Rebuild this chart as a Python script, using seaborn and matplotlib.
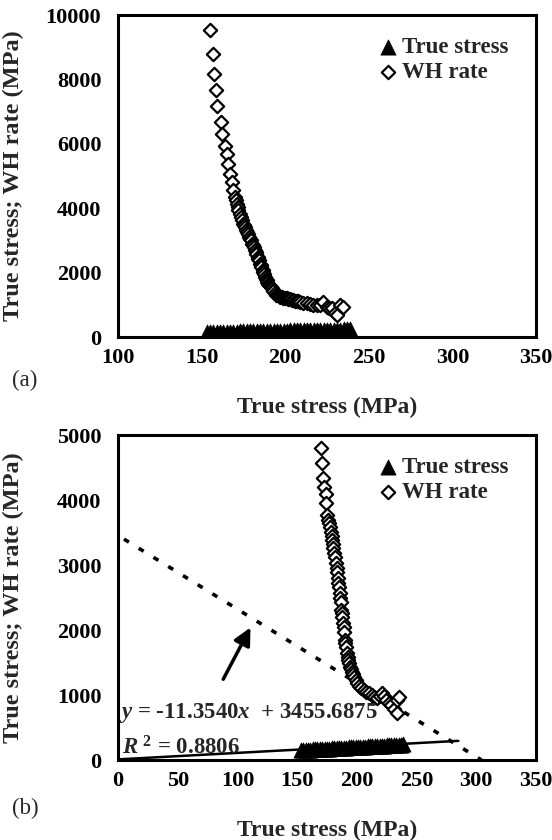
import numpy as np
import pandas as pd
import matplotlib
matplotlib.use("Agg")
import matplotlib.pyplot as plt
import seaborn as sns
from matplotlib.ticker import MultipleLocator

# ---- data ----
# panel (a): work hardening rate vs true stress
wh_stress_a = [155.0, 156.6, 157.4, 158.6, 159.0, 161.4, 162.3, 164.0, 165.0, 166.0,
               167.0, 168.0, 169.0, 170.0, 170.5, 171.0, 171.6, 172.0, 172.7, 173.4,
               174.2, 175.0, 175.4, 175.8, 176.6, 177.1, 177.5, 178.5, 179.0, 179.4,
               180.3, 180.8, 181.1, 181.9, 182.4, 182.7, 183.5, 184.0, 184.2, 184.9,
               185.3, 185.7, 186.5, 186.9, 187.2, 187.9, 188.4, 188.9, 189.4, 189.9,
               190.4, 190.9, 191.4, 191.9, 192.4, 192.9, 193.9, 194.6, 195.4, 196.2,
               196.9, 197.9, 198.9, 199.9, 200.9, 201.9, 202.9, 203.9, 204.9, 205.9,
               206.9, 207.9, 208.9, 210.9, 212.9, 214.8, 216.8, 218.8, 220.8, 222.8,
               224.8, 226.2, 227.7, 229.8, 230.7, 232.8, 234.5]
wh_rate_a = [9525, 8802, 8183, 7678, 7183, 6687, 6306, 5944, 5687, 5377,
             5077, 4808, 4551, 4344, 4240, 4138, 4030, 3932, 3830, 3725,
             3620, 3519, 3470, 3415, 3313, 3260, 3210, 3106, 3050, 3000,
             2900, 2850, 2800, 2693, 2640, 2590, 2487, 2430, 2385, 2281,
             2230, 2180, 2074, 2020, 1970, 1868, 1815, 1765, 1710, 1661,
             1620, 1580, 1540, 1507, 1470, 1430, 1352, 1320, 1300, 1270,
             1249, 1230, 1220, 1205, 1197, 1180, 1170, 1155, 1146, 1130,
             1120, 1105, 1094, 1070, 1042, 1015, 990, 985, 990, 1094,
             939, 910, 887, 733, 681, 990, 930]

# panel (b): same quantity, second plot
wh_stress_b = [169.9, 170.5, 172.0, 172.9, 174.1, 174.1, 175.0, 175.8, 176.5, 177.3,
               178.0, 178.8, 179.5, 180.0, 180.4, 181.2, 181.9, 182.5, 183.0, 183.4,
               184.0, 184.5, 184.9, 185.5, 186.0, 186.4, 187.0, 187.5, 187.9, 188.5,
               189.0, 189.4, 190.0, 190.4, 190.8, 191.4, 192.2, 192.9, 193.6, 194.4,
               195.2, 195.9, 196.7, 197.4, 198.9, 200.4, 201.9, 203.4, 205.6, 207.9,
               210.1, 212.4, 214.6, 216.9, 219.0, 221.4, 222.8, 224.4, 226.6, 228.8,
               231.0, 233.3, 233.3, 235.7]
wh_rate_b = [4795, 4574, 4333, 4205, 4092, 3949, 3769, 3700, 3641, 3580,
             3513, 3450, 3385, 3320, 3256, 3190, 3128, 3026, 2960, 2897,
             2795, 2730, 2667, 2564, 2500, 2436, 2308, 2260, 2205, 2103,
             2040, 1974, 1846, 1800, 1744, 1641, 1590, 1538, 1490, 1436,
             1400, 1359, 1320, 1282, 1230, 1179, 1140, 1103, 1075, 1051,
             1025, 1000, 975, 949, 990, 1026, 980, 923, 880, 846,
             790, 718, 923, 974]

# true stress series (plotted against itself)
true_stress = [153, 155, 157, 159, 161, 163, 165, 167, 169, 171, 173, 175, 177, 179,
               181, 183, 185, 187, 189, 191, 193, 195, 197, 199, 201, 203, 205, 207,
               209, 211, 213, 215, 217, 219, 221, 223, 225, 227, 229, 231, 233, 235,
               237, 239]

# linear fit of panel (b) and trend line
fit_slope = -11.3540
fit_intercept = 3455.6875
fit_x = [5, 304.4]
trend_x = [0, 285]
trend_y = [10, 295]
arrow_tail = (87, 1205)
arrow_head = (112, 2077)

# ---- style ----
sns.set_style("white")
plt.rcParams["font.family"] = ["Liberation Serif", "DejaVu Serif"]
plt.rcParams["font.weight"] = "bold"
plt.rcParams["mathtext.fontset"] = "custom"
plt.rcParams["mathtext.rm"] = "Liberation Serif:bold"
plt.rcParams["mathtext.it"] = "Liberation Serif:italic:bold"
fs = 16

fig = plt.figure(figsize=(5.52, 8.4), dpi=100)
ax_a = fig.add_axes([0.2138, 0.5988, 0.7572, 0.3833])
ax_b = fig.add_axes([0.2138, 0.0952, 0.7572, 0.3869])


def draw_panel(ax, wx, wy):
    sns.scatterplot(x=true_stress, y=true_stress, ax=ax, marker="^", s=120,
                    color="black", edgecolor="black", linewidth=0.5,
                    label="True stress", zorder=3)
    sns.scatterplot(x=wx, y=wy, ax=ax, marker="D", s=46, facecolor="white",
                    edgecolor="black", linewidth=1.6, label="WH rate", zorder=4)
    for sp in ax.spines.values():
        sp.set_visible(True)
        sp.set_linewidth(2.2)
        sp.set_color("black")
    ax.tick_params(axis="both", which="both", direction="in", labelsize=fs,
                   colors="black")
    ax.tick_params(axis="x", which="major", length=5, width=1, pad=8)
    ax.tick_params(axis="y", which="major", length=5, width=1, pad=12)
    ax.tick_params(axis="both", which="minor", length=3, width=0.6)
    ax.xaxis.set_minor_locator(MultipleLocator(10))
    ax.set_xlabel("True stress (MPa)", fontsize=17, fontweight="bold", labelpad=21)
    ax.set_ylabel("True stress; WH rate (MPa)", fontsize=17.5, fontweight="bold")
    ax.yaxis.set_label_coords(-0.225, 0.5)
    leg = ax.legend(loc="upper right", frameon=False, fontsize=16.5,
                    handletextpad=0.1, borderaxespad=0.0, labelspacing=0.15,
                    handlelength=1.0, bbox_to_anchor=(0.955, 0.96))
    for t in leg.get_texts():
        t.set_fontweight("bold")


# panel (a)
draw_panel(ax_a, wh_stress_a, wh_rate_a)
ax_a.set_xlim(100, 350)
ax_a.set_ylim(0, 10000)
ax_a.set_xticks([100, 150, 200, 250, 300, 350])
ax_a.set_yticks([0, 2000, 4000, 6000, 8000, 10000])
ax_a.yaxis.set_minor_locator(MultipleLocator(500))

# panel (b)
draw_panel(ax_b, wh_stress_b, wh_rate_b)
ax_b.set_xlim(0, 350)
ax_b.set_ylim(0, 5000)
ax_b.set_xticks([0, 50, 100, 150, 200, 250, 300, 350])
ax_b.set_yticks([0, 1000, 2000, 3000, 4000, 5000])
ax_b.yaxis.set_minor_locator(MultipleLocator(250))

fit_y = [fit_slope * v + fit_intercept for v in fit_x]
ax_b.plot(fit_x, fit_y, color="black", lw=2.6, linestyle=(0, (1.6, 3.2)), zorder=2)
ax_b.plot(trend_x, trend_y, color="black", lw=1.8, zorder=2)
ax_b.annotate("", xy=arrow_head, xytext=arrow_tail,
              arrowprops=dict(arrowstyle="-|>", color="black", lw=2.5,
                              mutation_scale=26))
ax_b.text(0.5, 720, r"$y$ = -11.3540$x$  + 3455.6875", fontsize=16.5,
          fontweight="bold", va="center", ha="left", zorder=5)
ax_b.text(3, 190, r"$R^{\ \mathrm{2}}$ = 0.8806", fontsize=16.5,
          fontweight="bold", va="center", ha="left", zorder=5)

fig.text(25 / 552, 1 - 380 / 840, "(a)", fontsize=16.5, fontweight="normal",
         ha="center", va="center")
fig.text(25 / 552, 1 - 808 / 840, "(b)", fontsize=16.5, fontweight="normal",
         ha="center", va="center")

fig.savefig("out.png", dpi=100)
